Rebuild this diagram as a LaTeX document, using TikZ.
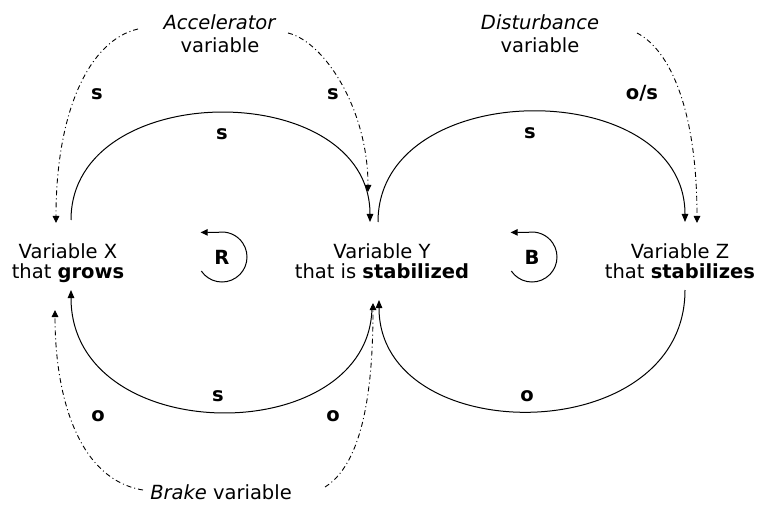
\documentclass[tikz,border=0pt]{standalone}
\usepackage{fontspec}
\setmainfont{DejaVu Sans}
\usetikzlibrary{arrows.meta}
\begin{document}
\begin{tikzpicture}[x=1pt,y=-1pt,
  txt/.style={font=\fontsize{19.5pt}{20.5pt}\selectfont, align=center, inner sep=0pt},
  toptxt/.style={font=\fontsize{19.5pt}{23.3pt}\selectfont, align=center, inner sep=0pt},
  lbl/.style={font=\fontsize{19.5pt}{20pt}\selectfont\bfseries, inner sep=0pt, anchor=base},
  flow/.style={line width=1pt, -{Triangle[length=8pt,width=6.5pt]}},
  infl/.style={line width=0.9pt, dash pattern=on 5pt off 3pt on 1pt off 3pt, -{Triangle[length=7pt,width=6.5pt]}},
  loopsym/.style={line width=1pt, -{Triangle[length=7pt,width=6.5pt]}},
]
\useasboundingbox (0,0) rectangle (760,505);
% variables
\node[txt] (X) at (68,263) {Variable X\\that \textbf{grows}};
\node[txt] (Y) at (382,261) {Variable Y\\that is \textbf{stabilized}};
\node[txt] (Z) at (680,261) {Variable Z\\that \textbf{stabilizes}};
\node[toptxt] (acc) at (220,33.6) {\textit{Accelerator}\\variable};
\node[toptxt] (dist) at (540,33.6) {\textit{Disturbance}\\variable};
\node[txt, anchor=base] (brake) at (221,499) {\textit{Brake} variable};
% ports
\coordinate (Xt) at (71,220);
\coordinate (Xb) at (71,290);
\coordinate (Yt1) at (370,222);
\coordinate (Yt2) at (378,222);
\coordinate (Yb1) at (372,306);
\coordinate (Yb2) at (379,300);
\coordinate (Zt) at (685,222);
\coordinate (Zb) at (685,290);
\coordinate (accL) at (138,29);
\coordinate (accR) at (288,33);
\coordinate (distR) at (637,33);
\coordinate (brakeL) at (143,490);
\coordinate (brakeR) at (325,487);
\coordinate (Xa) at (56,223);
\coordinate (Ya) at (368,192);
\coordinate (Za) at (697,223);
\coordinate (Xr) at (55,310);
\coordinate (Yr) at (373,303);
% causal links
\draw[flow] (Xt) .. controls (71,77) and (370,77) .. (Yt1);
\draw[flow] (Yb1) .. controls (372,450) and (71,450) .. (Xb);
\draw[flow] (Yt2) .. controls (378,75) and (685,75) .. (Zt);
\draw[flow] (Zb) .. controls (685,450) and (379,450) .. (Yb2);
% external influences
\draw[infl] (accL) .. controls (90,40) and (56,110) .. (Xa);
\draw[infl] (accR) .. controls (325,42) and (368,110) .. (Ya);
\draw[infl] (distR) .. controls (670,50) and (697,110) .. (Za);
\draw[infl] (brakeL) .. controls (80,480) and (55,400) .. (Xr);
\draw[infl] (brakeR) .. controls (360,465) and (373,400) .. (Yr);
% polarity labels
\node[lbl] (l1) at (97,100) {s};
\node[lbl] (l2) at (333,100) {s};
\node[lbl] (l3) at (222,140) {s};
\node[lbl] (l4) at (642,100) {o/s};
\node[lbl] (l5) at (530,139) {s};
\node[lbl] (l6) at (98,421) {o};
\node[lbl] (l7) at (218,401) {s};
\node[lbl] (l8) at (333,421) {o};
\node[lbl] (l9) at (527,401) {o};
% loop symbols
\node[lbl, anchor=center] (R) at (222,257) {R};
\node[lbl, anchor=center] (B) at (532,257) {B};
\draw[loopsym] ([shift={(-146:25pt)}]R.center) arc[start angle=-146, end angle=100, radius=25pt] -- ++(-17pt,0pt);
\draw[loopsym] ([shift={(-146:25pt)}]B.center) arc[start angle=-146, end angle=100, radius=25pt] -- ++(-17pt,0pt);
\end{tikzpicture}
\end{document}
